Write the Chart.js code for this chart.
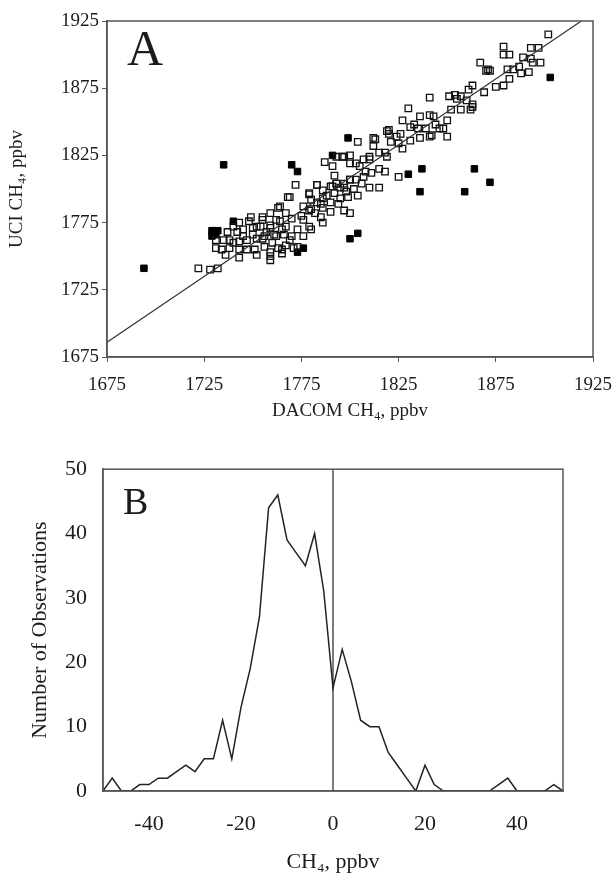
<!DOCTYPE html>
<html>
<head>
<meta charset="utf-8">
<script src="https://cdn.jsdelivr.net/npm/chart.js@4.4.0/dist/chart.umd.min.js"></script>
<style>
    html, body { margin: 0; padding: 0; background: #fff; }
    #wrap { position: relative; width: 614px; height: 880px; }
    .panel { position: absolute; left: 0; width: 614px; height: 440px; }
    #panelA { top: 0; }
    #panelB { top: 440px; }
</style>
</head>
<body>
<div id="wrap">
    <div class="panel" id="panelA"><canvas id="chartA" width="614" height="440"></canvas></div>
    <div class="panel" id="panelB"><canvas id="chartB" width="614" height="440"></canvas></div>
</div>
<script>
// ---- Panel A data: UCI vs DACOM CH4 (ppbv) ----
const ticksA = [1675, 1725, 1775, 1825, 1875, 1925];

const openSquares = [
    [1722,1741],[1728,1740],[1732,1741],[1759,1747],
    [1736,1751],[1743,1749],[1752,1751],[1759,1750],[1765,1752],
    [1731,1756],[1734,1755],[1738,1756],[1743,1755],[1747,1755],[1751,1755],[1756,1757],[1763,1756],[1767,1758],
    [1731,1762],[1735,1762],[1738,1762],[1743,1761],[1747,1762],[1752,1763],[1756,1765],[1761,1766],[1766,1766],
    [1737,1768],[1742,1768],[1745,1770],[1750,1771],[1754,1772],[1759,1773],[1764,1776],
    [1740,1772],[1743,1775],[1748,1776],[1749,1779],[1755,1779],[1759,1782],[1767,1782],[1763,1786],[1768,1794],
    [1772,1803],[1769,1794],
    [1783,1803],[1786,1799],[1790,1802],[1793,1804],[1797,1801],[1799,1794],
    [1779,1796],[1780,1792],[1785,1789],[1776,1787],[1779,1784],[1786,1786],[1790,1783],[1794,1789],[1797,1784],[1800,1782],
    [1785,1779],[1786,1775],[1776,1777],[1779,1772],[1773,1770],[1776,1765],[1769,1762],[1773,1757],
    [1767,1772],[1762,1777],[1755,1777],[1759,1771],[1752,1772],[1750,1766],[1762,1765],[1755,1763],[1759,1753],[1765,1755],[1771,1756],
    [1780,1785],[1783,1790],[1788,1795],[1792,1797],[1795,1793],[1798,1798],[1802,1800],[1806,1804],[1790,1790],
    [1775,1780],[1770,1778],[1765,1770],[1757,1768],[1745,1765],[1740,1760],[1760,1760],[1770,1765],[1780,1770],[1782,1782],
    [1804,1835],[1813,1837],[1819,1843],[1800,1825],[1796,1824],[1787,1820],
    [1810,1801],[1815,1801],[1804,1795],[1818,1827],[1818,1813],[1810,1822],[1805,1817],[1791,1817],[1792,1810],
    [1783,1803],[1779,1797],[1764,1787],[1786,1793],[1795,1801],[1800,1807],[1808,1813],
    [1902,1915],[1879,1906],[1879,1900],[1882,1900],[1893,1905],[1897,1905],
    [1889,1898],[1893,1897],[1894,1894],[1898,1894],[1887,1891],[1892,1887],[1888,1886],
    [1884,1889],[1881,1889],[1882,1882],[1867,1894],[1870,1888],[1872,1888],[1871,1889],
    [1875,1876],[1879,1877],[1869,1872],
    [1863,1877],[1861,1874],[1857,1869],[1855,1867],[1854,1870],[1851,1869],[1841,1868],
    [1860,1866],[1863,1861],[1862,1859],[1857,1859],[1852,1859],[1863,1863],
    [1830,1860],[1827,1851],[1836,1854],[1841,1855],[1843,1854],[1850,1851],[1844,1848],[1833,1848],
    [1820,1844],[1826,1841],[1831,1846],[1835,1845],[1839,1845],[1842,1840],[1846,1845],[1850,1839],[1848,1845],
    [1812,1838],[1820,1841],[1824,1839],[1821,1835],[1825,1834],[1827,1830],[1831,1836],[1836,1838],[1841,1839],
    [1812,1832],[1815,1827],[1819,1824],[1810,1824],[1807,1822],[1803,1819],[1800,1819],[1797,1824],[1793,1824],
    [1815,1815],[1811,1812],[1807,1809],[1803,1807],[1800,1807],[1797,1804],[1793,1804],[1791,1802],
    [1825,1809]
];

const filledSquares = [
    [1694,1741],[1729,1769],[1732,1769],[1729,1765],[1731,1766],
    [1735,1818],[1740,1776],[1770,1818],[1773,1813],[1773,1753],[1776,1756],
    [1791,1825],[1799,1838],[1800,1763],[1804,1767],
    [1830,1811],[1837,1815],[1836,1798],[1859,1798],[1864,1815],[1872,1805],[1903,1883]
];

// fitted line end points
const fitX = [1675, 1919];
const fitY = [1686, 1925];

// ---- Panel B data: histogram of differences ----
const binsB = [-50,-48,-46,-44,-42,-40,-38,-36,-34,-32,-30,-28,-26,-24,-22,-20,-18,-16,-14,-12,-10,-8,-6,-4,-2,
               0,2,4,6,8,10,12,14,16,18,20,22,24,26,28,30,32,34,36,38,40,42,44,46,48,50];
const countsB = [0,2,0,0,1,1,2,2,3,4,3,5,5,11,5,13,19,27,44,46,39,37,35,40,31,
                 16,22,17,11,10,10,6,4,2,0,4,1,0,0,0,0,0,0,1,2,0,0,0,0,1,0];
const ticksBx = [-40, -20, 0, 20, 40];
const ticksBy = [0, 10, 20, 30, 40, 50];
const zeroX = [0, 0];
const zeroY = [0, 50];

const SERIF = "'Liberation Serif', 'Times New Roman', serif";
const INK = '#1c1c1c';
const FRAME = '#555';

// Frame round the plot + panel letter
const framePlugin = {
    id: 'frame',
    afterDatasetsDraw(chart, args, opts) {
        const { ctx, chartArea: a } = chart;
        ctx.save();
        ctx.strokeStyle = FRAME;
        ctx.lineWidth = 1.5;
        ctx.strokeRect(a.left, a.top, a.right - a.left, a.bottom - a.top);
        ctx.fillStyle = INK;
        ctx.font = opts.size + 'px ' + SERIF;
        ctx.textBaseline = 'alphabetic';
        ctx.fillText(opts.letter, a.left + opts.dx, a.top + opts.dy);
        ctx.restore();
    }
};

const toPts = arr => arr.map(([x, y]) => ({ x, y }));
const pairs = (xs, ys) => xs.map((x, i) => ({ x, y: ys[i] }));
const plain = v => String(v);

// Panel A
new Chart(document.getElementById('chartA'), {
    type: 'scatter',
    data: {
        datasets: [
            {
                type: 'line',
                data: pairs(fitX, fitY),
                borderColor: '#333',
                borderWidth: 1.2,
                pointRadius: 0,
                fill: false
            },
            {
                data: toPts(openSquares),
                pointStyle: 'rect',
                pointRadius: 4.6,
                borderColor: '#111',
                borderWidth: 1.3,
                backgroundColor: 'rgba(0,0,0,0)'
            },
            {
                data: toPts(filledSquares),
                pointStyle: 'rect',
                pointRadius: 4.6,
                borderColor: '#000',
                borderWidth: 1,
                backgroundColor: '#000'
            }
        ]
    },
    options: {
        responsive: false,
        animation: false,
        layout: { padding: { top: 21, right: 21, left: 0, bottom: 0 } },
        plugins: {
            legend: { display: false },
            tooltip: { enabled: false },
            frame: { letter: 'A', size: 50, dx: 20, dy: 44 }
        },
        scales: {
            x: {
                type: 'linear',
                min: 1675,
                max: 1925,
                afterBuildTicks: s => { s.ticks = ticksA.map(v => ({ value: v })); },
                afterFit: s => { s.height = 83; s.paddingLeft = 0; s.paddingRight = 0; },
                grid: { drawOnChartArea: false, drawTicks: true, tickLength: 5, color: FRAME },
                border: { display: true, color: FRAME, width: 1.5 },
                ticks: { padding: 12, color: INK, maxRotation: 0, callback: plain, font: { family: SERIF, size: 19 } },
                title: {
                    display: true, text: 'DACOM CH₄, ppbv', color: INK,
                    font: { family: SERIF, size: 19 }, padding: { top: 0, bottom: 18 }
                }
            },
            y: {
                type: 'linear',
                min: 1675,
                max: 1925,
                afterBuildTicks: s => { s.ticks = ticksA.map(v => ({ value: v })); },
                afterFit: s => { s.width = 107; s.paddingTop = 0; s.paddingBottom = 0; },
                grid: { drawOnChartArea: false, drawTicks: true, tickLength: 5, color: FRAME },
                border: { display: true, color: FRAME, width: 1.5 },
                ticks: { padding: 3, color: INK, callback: plain, font: { family: SERIF, size: 19 } },
                title: {
                    display: true, text: 'UCI CH₄, ppbv', color: INK,
                    font: { family: SERIF, size: 19 }, padding: { top: 6, bottom: 0 }
                }
            }
        }
    },
    plugins: [framePlugin]
});

// Panel B
new Chart(document.getElementById('chartB'), {
    type: 'scatter',
    data: {
        datasets: [
            {
                type: 'line',
                data: pairs(binsB, countsB),
                borderColor: '#222',
                borderWidth: 1.5,
                pointRadius: 0,
                tension: 0,
                fill: false
            },
            {
                type: 'line',
                data: pairs(zeroX, zeroY),
                borderColor: '#222',
                borderWidth: 1.2,
                pointRadius: 0,
                fill: false
            }
        ]
    },
    options: {
        responsive: false,
        animation: false,
        layout: { padding: { top: 12, right: 51, left: 0, bottom: 0 } },
        plugins: {
            legend: { display: false },
            tooltip: { enabled: false },
            frame: { letter: 'B', size: 38, dx: 20, dy: 45 }
        },
        scales: {
            x: {
                type: 'linear',
                min: -50,
                max: 50,
                afterBuildTicks: s => { s.ticks = ticksBx.map(v => ({ value: v })); },
                afterFit: s => { s.height = 89; },
                grid: { display: false, drawTicks: false },
                border: { display: true, color: FRAME, width: 1.5 },
                ticks: { padding: 20, color: INK, maxRotation: 0, callback: plain, font: { family: SERIF, size: 22 } },
                title: {
                    display: true, text: 'CH₄, ppbv', color: INK,
                    font: { family: SERIF, size: 22 }, padding: { top: 0, bottom: 5 }
                }
            },
            y: {
                type: 'linear',
                min: 0,
                max: 50,
                afterBuildTicks: s => { s.ticks = ticksBy.map(v => ({ value: v })); },
                afterFit: s => { s.width = 103; },
                grid: { display: false, drawTicks: false },
                border: { display: true, color: FRAME, width: 1.5 },
                ticks: { padding: 16, color: INK, callback: plain, font: { family: SERIF, size: 22 } },
                title: {
                    display: true, text: 'Number of Observations', color: INK,
                    font: { family: SERIF, size: 22 }, padding: { top: 27, bottom: 0 }
                }
            }
        }
    },
    plugins: [framePlugin]
});
</script>
</body>
</html>
